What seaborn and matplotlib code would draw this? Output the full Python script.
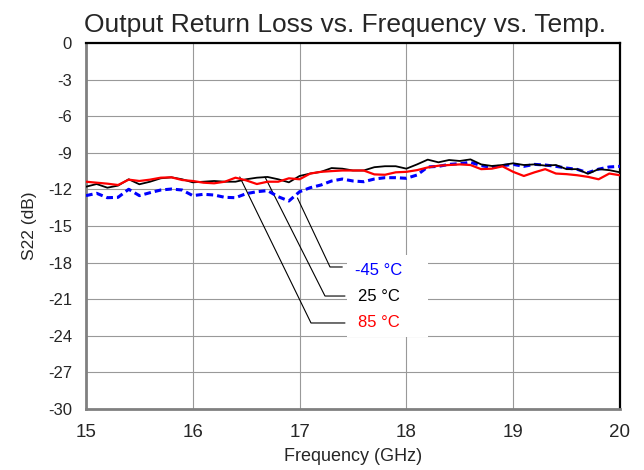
import numpy as np
import pandas as pd
import matplotlib
matplotlib.use("Agg")
import matplotlib.pyplot as plt
import seaborn as sns
from matplotlib.patches import Rectangle

# ---- data ----
freq_ghz = [15.0, 15.1, 15.2, 15.3, 15.4, 15.5, 15.6, 15.7, 15.8, 15.9,
            16.0, 16.1, 16.2, 16.3, 16.4, 16.5, 16.6, 16.7, 16.8, 16.9,
            17.0, 17.1, 17.2, 17.3, 17.4, 17.5, 17.6, 17.7, 17.8, 17.9,
            18.0, 18.1, 18.2, 18.3, 18.4, 18.5, 18.6, 18.7, 18.8, 18.9,
            19.0, 19.1, 19.2, 19.3, 19.4, 19.5, 19.6, 19.7, 19.8, 19.9, 20.0]

s22_m45 = [-12.51, -12.32, -12.68, -12.65, -11.99, -12.51, -12.27, -12.05, -11.97, -12.05,
           -12.51, -12.40, -12.46, -12.65, -12.68, -12.35, -12.19, -12.10, -12.60, -12.95,
           -12.19, -11.86, -11.64, -11.31, -11.15, -11.31, -11.37, -11.15, -11.04, -11.04,
           -11.09, -10.82, -10.16, -10.11, -9.95, -9.89, -9.78, -10.05, -10.20, -10.05,
           -9.95, -10.11, -9.95, -10.00, -10.11, -10.25, -10.36, -10.63, -10.34, -10.16, -10.11]

s22_25 = [-11.78, -11.56, -11.86, -11.69, -11.17, -11.58, -11.37, -11.09, -11.01, -11.17,
          -11.42, -11.37, -11.31, -11.37, -11.37, -11.17, -11.04, -10.98, -11.17, -11.42,
          -10.90, -10.70, -10.56, -10.25, -10.30, -10.45, -10.45, -10.18, -10.10, -10.10,
          -10.30, -9.95, -9.56, -9.78, -9.59, -9.67, -9.54, -9.95, -10.08, -10.00,
          -9.86, -10.00, -9.95, -10.05, -10.00, -10.34, -10.34, -10.72, -10.34, -10.42, -10.60]

s22_85 = [-11.37, -11.45, -11.53, -11.64, -11.20, -11.31, -11.20, -11.04, -11.01, -11.23,
          -11.31, -11.45, -11.50, -11.37, -11.04, -11.26, -11.56, -11.37, -11.37, -11.09,
          -11.17, -10.70, -10.56, -10.50, -10.45, -10.45, -10.45, -10.77, -10.80, -10.60,
          -10.56, -10.42, -10.20, -10.06, -10.00, -9.95, -10.00, -10.34, -10.30, -10.11,
          -10.56, -10.90, -10.60, -10.34, -10.70, -10.75, -10.84, -10.97, -11.17, -10.70, -10.84]

series_labels = ["-45 °C", "25 °C", "85 °C"]
series_colors = ["#0000FF", "#000000", "#FF0000"]

x_ticks = [15, 16, 17, 18, 19, 20]
y_ticks = [0, -3, -6, -9, -12, -15, -18, -21, -24, -27, -30]

# annotation anchors: (point on curve), (elbow), (text position)
ann_points = [(16.98, -12.70), (16.676, -10.98), (16.44, -10.98)]
ann_elbows = [(17.285, -18.36), (17.238, -20.74), (17.107, -22.95)]
ann_ends_x = [17.40, 17.425, 17.425]
ann_text_pos = [(17.74, -18.62), (17.74, -20.80), (17.74, -22.95)]

# ---- plotting ----
sns.set_theme(style="white")
plt.rcParams["font.family"] = ["Liberation Sans", "DejaVu Sans"]

fig = plt.figure(figsize=(6.44, 4.70), dpi=100)
ax = fig.add_axes([0.1335, 0.1298, 0.8292, 0.7787])

df = pd.DataFrame({"freq": freq_ghz * 3,
                   "s22": s22_m45 + s22_25 + s22_85,
                   "temp": [series_labels[0]] * len(freq_ghz)
                           + [series_labels[1]] * len(freq_ghz)
                           + [series_labels[2]] * len(freq_ghz)})

sns.lineplot(data=df[df.temp == series_labels[0]], x="freq", y="s22", ax=ax,
             color=series_colors[0], lw=2.2, linestyle=(0, (2.2, 1.3)), zorder=4,
             legend=False)
sns.lineplot(data=df[df.temp == series_labels[1]], x="freq", y="s22", ax=ax,
             color=series_colors[1], lw=1.3, zorder=5, legend=False)
sns.lineplot(data=df[df.temp == series_labels[2]], x="freq", y="s22", ax=ax,
             color=series_colors[2], lw=1.6, zorder=6, legend=False)

ax.set_xlim(15, 20)
ax.set_ylim(-30, 0)
ax.set_xticks(x_ticks)
ax.set_yticks(y_ticks)
ax.set_xticklabels([str(t) for t in x_ticks], fontsize=13.5)
ax.set_yticklabels([str(t) for t in y_ticks], fontsize=12)
ax.tick_params(axis="both", length=0)
ax.tick_params(axis="x", pad=11)
ax.tick_params(axis="y", pad=10)

ax.grid(True, color="#999999", lw=0.8, zorder=0)
ax.set_axisbelow(True)

for side in ["left", "bottom"]:
    ax.spines[side].set_color("#808080")
    ax.spines[side].set_linewidth(2.0)
for side in ["top", "right"]:
    ax.spines[side].set_color("#000000")
    ax.spines[side].set_linewidth(1.6)

ax.set_xlabel("Frequency (GHz)", fontsize=13, labelpad=5)
ax.set_ylabel("S22 (dB)", fontsize=12.5, labelpad=8)
ax.set_title("Output Return Loss vs. Frequency vs. Temp.", fontsize=19,
             x=0.485, pad=8)

# white box behind the labels
ax.add_patch(Rectangle((17.44, -24.1), 0.76, 6.7, facecolor="white",
                       edgecolor="none", zorder=2))

for (px, py), (ex, ey), endx, (tx, ty), lab, col in zip(
        ann_points, ann_elbows, ann_ends_x, ann_text_pos,
        series_labels, series_colors):
    ax.plot([px, ex, endx], [py, ey, ey], color="black", lw=0.8, zorder=3)
    ax.text(tx, ty, lab, color=col, fontsize=12, ha="center", va="center",
            zorder=7)

fig.savefig("out.png", dpi=100)
